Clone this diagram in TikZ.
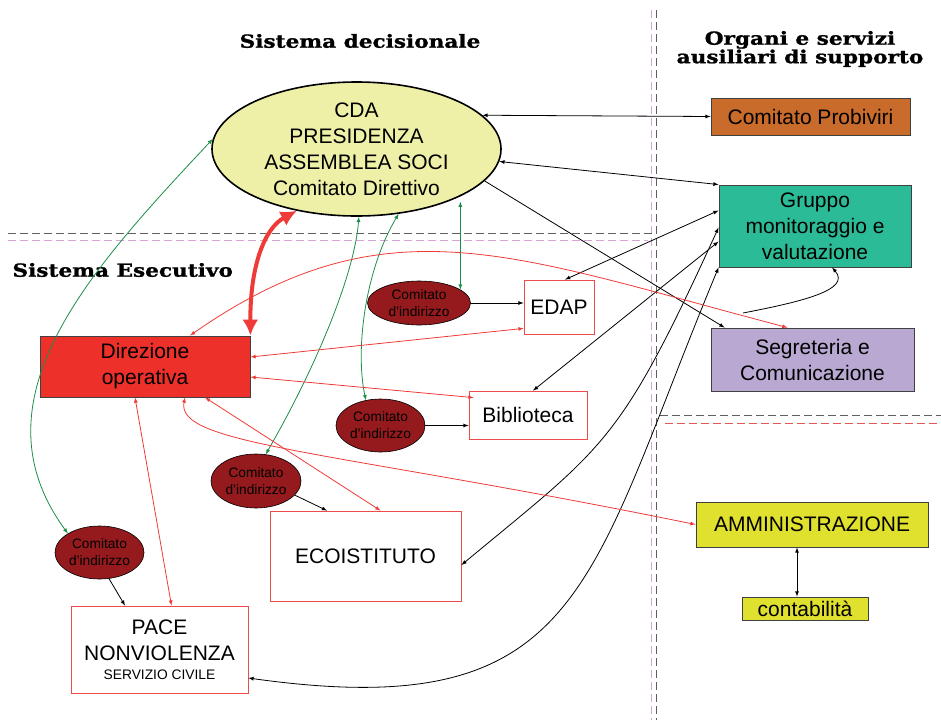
\documentclass[tikz,border=0pt]{standalone}
\usepackage{fontspec}
\setmainfont{Liberation Sans}
\newfontfamily\hdfont{DejaVu Serif}[FakeStretch=1.2,BoldFeatures={FakeBold=1.2}]
\usetikzlibrary{shapes.geometric,arrows.meta}
\definecolor{cdayel}{HTML}{EFF0A8}
\definecolor{probor}{HTML}{C96B2A}
\definecolor{grteal}{HTML}{2BBB97}
\definecolor{seglav}{HTML}{B9A9D2}
\definecolor{dirred}{HTML}{EE302B}
\definecolor{amyel}{HTML}{E0E12F}
\definecolor{cdired}{HTML}{941A1D}
\definecolor{lgreen}{HTML}{1D8D47}
\definecolor{lred}{HTML}{EE3B37}
\definecolor{boxred}{HTML}{EE4B4B}
\definecolor{dpink}{HTML}{D7A3D7}
\definecolor{dgray}{HTML}{606060}
\definecolor{dred}{HTML}{E45757}
\begin{document}
\begin{tikzpicture}[x=1pt,y=-1pt,
    org/.style={rectangle,draw=black!75,line width=0.9pt,inner sep=0pt,align=center,font=\fontsize{21}{26}\selectfont},
    unit/.style={rectangle,draw=boxred,line width=0.8pt,fill=white,inner sep=0pt,align=center,font=\fontsize{21}{26}\selectfont},
    cdi/.style={ellipse,draw,line width=0.6pt,fill=cdired,inner sep=0pt,align=center,font=\fontsize{13.7}{17}\selectfont},
    hd/.style={font=\hdfont\bfseries\fontsize{18}{18.5}\selectfont,align=center},
    bl/.style={line width=0.8pt,latex-latex},
    gl/.style={line width=0.8pt,draw=lgreen,latex-latex},
    rl/.style={line width=0.8pt,draw=lred,latex-latex},
    divline/.style={line width=0.9pt,dash pattern=on 8pt off 4pt}]
\useasboundingbox (0,0) rectangle (941,720);
\draw[divline,dpink] (651,10) -- (651,720) (8,240) -- (648,240);
\draw[divline,dgray] (656,10) -- (656,720) (8,233) -- (653,233) (660,415) -- (941,415);
\draw[divline,dred] (665,423) -- (941,423);

\node[hd] (hdec) at (360,41) {Sistema decisionale};
\node[hd] (horg) at (800,49) {Organi e servizi\\ausiliari di supporto};
\node[hd,anchor=west] (hexe) at (9,270) {Sistema Esecutivo};

\node[ellipse,draw,line width=1.6pt,fill=cdayel,minimum width=289,minimum height=134,inner xsep=0pt,inner ysep=-5pt,align=center,font=\fontsize{21}{26}\selectfont] (cda) at (356.5,149) {CDA\\PRESIDENZA\\ASSEMBLEA SOCI\\Comitato Direttivo};
\node[org,fill=probor,minimum width=199,minimum height=37] (probi) at (810.5,116.5) {Comitato Probiviri};
\node[org,fill=grteal,minimum width=192,minimum height=82] (gruppo) at (815,226) {Gruppo\\monitoraggio e\\valutazione};
\node[org,fill=seglav,minimum width=203,minimum height=63] (segr) at (812.5,359.5) {Segreteria e\\Comunicazione};
\node[org,fill=amyel,minimum width=232,minimum height=45] (ammin) at (812,524.5) {AMMINISTRAZIONE};
\node[org,fill=amyel,minimum width=126,minimum height=23] (conta) at (805,608.5) {contabilità};
\node[org,fill=dirred,minimum width=210,minimum height=61] (direz) at (145,366.5) {Direzione\\operativa};
\node[unit,minimum width=70,minimum height=54] (edap) at (559,307) {EDAP};
\node[unit,minimum width=118,minimum height=48] (biblio) at (528,415) {Biblioteca};
\node[unit,minimum width=191,minimum height=90] (eco) at (365.5,556) {ECOISTITUTO};
\node[unit,minimum width=177,minimum height=87] (pace) at (159.5,649.5) {PACE\\NONVIOLENZA\\[-7pt]{\fontsize{13.8}{16}\selectfont SERVIZIO CIVILE}};
\foreach \n/\x/\y/\w/\h in {ci1/419/303/103/44, ci2/380.5/425.5/89/53, ci3/256/481/90/54, ci4/99.5/552.5/89/53}
    \node[cdi,minimum width=\w,minimum height=\h] (\n) at (\x,\y) {Comitato\\d’indirizzo};

\draw[bl] (cda.15) -- (probi.west);
\draw[bl] (cda.-5) -- (gruppo.north west);
\draw[line width=0.8pt,-latex] (cda.-14) -- ([xshift=14pt]segr.north west);
\draw[bl] ([xshift=6pt]edap.north) -- ([yshift=-26pt]gruppo.north west);
\draw[bl] ([xshift=5pt]biblio.north) -- ([yshift=-57pt]gruppo.north west);
\draw[bl] ([yshift=-9pt]eco.east) .. controls (606,445) and (619,445) .. ([yshift=-43pt]gruppo.north west);
\draw[bl] ([yshift=-28.5pt]pace.east) .. controls (584,725) and (586,586) .. (gruppo.south west);
\coordinate (lp) at (743,313);
\draw[line width=0.8pt,-latex] (lp) .. controls (800,302) and (852,290) .. ([xshift=17pt]gruppo.south);
\draw[bl] ([xshift=-8pt]conta.north) -- ([xshift=-8pt]conta.north |- ammin.south);
\draw[line width=0.8pt,-latex] (ci1.east) -- (ci1.east -| edap.west);
\draw[line width=0.8pt,-latex] (ci2.east) -- (ci2.east -| biblio.west);
\draw[line width=0.8pt,-latex] (ci3.-20) -- ([xshift=-38.5pt]eco.north);
\draw[line width=0.8pt,-latex] (ci4.-70) -- ([xshift=-34.5pt]pace.north);

\draw[gl] (ci4.149) .. controls (-30,400) and (90,270) .. (cda.176);
\draw[gl] (cda.-88) .. controls (355,270) and (320,360) .. (ci3.70);
\draw[gl] (cda.-57) .. controls (365,270) and (355,350) .. (ci2.120);
\draw[gl] (ci1.18) -- (ci1.18 |- cda.-30);

\draw[line width=4pt,draw=lred,{Latex[length=16pt,width=16pt]}-{Latex[length=16pt,width=16pt]}] (direz.north east) .. controls (250,265) and (265,228) .. (cda.-134);
\draw[rl] ([xshift=45pt]direz.north) .. controls (387,198) and (514,256) .. ([xshift=-25pt]segr.north);
\draw[rl] ([yshift=9.5pt]direz.east) -- ([yshift=6pt]edap.south west);
\draw[rl] ([yshift=-10.5pt]direz.east) -- ([shift={(5pt,-7pt)}]biblio.north west);
\draw[rl] ([xshift=60pt]direz.south) -- ([xshift=15pt]eco.north);
\draw[rl] ([xshift=40pt]direz.south) .. controls (175,445) and (330,450) .. (ammin.west);
\draw[rl] ([xshift=-10pt]direz.south) -- ([xshift=12pt]pace.north);
\end{tikzpicture}
\end{document}
